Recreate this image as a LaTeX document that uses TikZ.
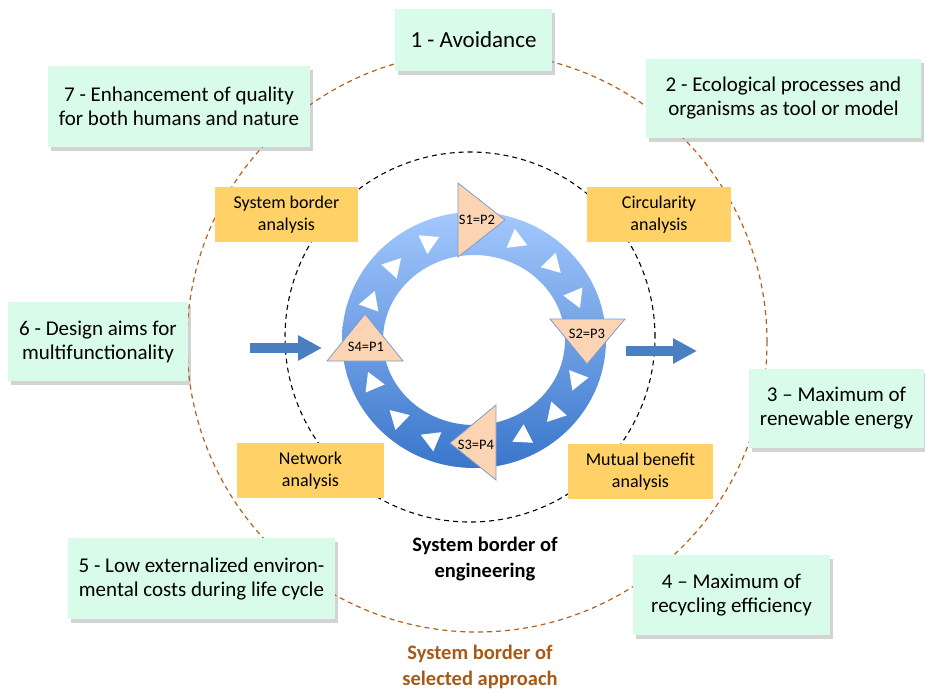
\documentclass[tikz,border=0pt]{standalone}
\usepackage{fontspec}
\setmainfont{Carlito}
\usetikzlibrary{shadows,arrows.meta}
\definecolor{mint}{HTML}{D9FBE9}
\definecolor{gold}{HTML}{FFD166}
\definecolor{brownline}{HTML}{B5611E}
\definecolor{browntext}{HTML}{A85A14}
\definecolor{ringtop}{HTML}{A3C8FD}
\definecolor{ringbot}{HTML}{3A76CB}
\definecolor{peach}{HTML}{FBD4B4}
\definecolor{triedge}{HTML}{7E9CCB}
\definecolor{arrowblue}{HTML}{4A7FC1}
\begin{document}
\begin{tikzpicture}[x=1pt,y=1pt,
  greenbox/.style={fill=mint, align=center, inner sep=0pt,
    font=\fontsize{21}{24}\selectfont,
    drop shadow={shadow xshift=2.5pt,shadow yshift=-3.5pt,opacity=0.35}},
  goldbox/.style={fill=gold, align=center, inner sep=0pt,
    font=\fontsize{18}{21.5}\selectfont},
  trilabel/.style={inner sep=0pt, font=\fontsize{14.5}{17}\selectfont},
  peachtri/.style={fill=peach, draw=triedge, line width=0.8pt, line join=miter},
  bluearrow/.style={draw=arrowblue, line width=10pt,
    -{Triangle[length=24pt,width=24pt]}},
  outerborder/.style={draw=brownline, line width=1.2pt, dash pattern=on 5pt off 4pt},
  innerborder/.style={draw=black, line width=1.1pt, dash pattern=on 5pt off 4pt}
]
\useasboundingbox (0,0) rectangle (925,-689);

% system borders
\draw[outerborder] (477,-342) circle[radius=290];
\draw[innerborder] (470,-337) circle[radius=185];

% principle boxes
\node[greenbox, minimum width=157pt, minimum height=62pt, font=\fontsize{23}{27}\selectfont] (b1) at (473.5,-40) {1 - Avoidance};
\node[greenbox, minimum width=275pt, minimum height=79pt] (b2) at (783.5,-98.5) {2 - Ecological processes and\\organisms as tool or model};
\node[greenbox, minimum width=175pt, minimum height=79pt] (b3) at (836.5,-408.5) {3 -- Maximum of\\renewable energy};
\node[greenbox, minimum width=197pt, minimum height=80pt] (b4) at (731.5,-595) {4 -- Maximum of\\recycling efficiency};
\node[greenbox, minimum width=267pt, minimum height=81pt] (b5) at (201.5,-578.5) {5 - Low externalized environ-\\mental costs during life cycle};
\node[greenbox, minimum width=180pt, minimum height=79pt] (b6) at (98,-341.5) {6 - Design aims for\\multifunctionality};
\node[greenbox, minimum width=262pt, minimum height=81pt] (b7) at (179,-106.5) {7 - Enhancement of quality\\for both humans and nature};

% analysis boxes
\node[goldbox, minimum width=143pt, minimum height=55pt] (a1) at (286.5,-214.5) {System border\\analysis};
\node[goldbox, minimum width=144pt, minimum height=55pt] (a2) at (659,-214.5) {Circularity\\analysis};
\node[goldbox, minimum width=147pt, minimum height=55pt] (a3) at (310.5,-470.5) {Network\\analysis};
\node[goldbox, minimum width=145pt, minimum height=55pt] (a4) at (640.5,-471.5) {Mutual benefit\\analysis};

% ring
\shade[top color=ringtop, bottom color=ringbot, even odd rule]
  (474,-340) ellipse[x radius=132, y radius=128]
  (474,-340) ellipse[x radius=91, y radius=85];

% small white triangles (clockwise flow)
\begin{scope}[shift={(474,-340)}]
\foreach \a/\r in {115/108,138/109,160/110,67/108,44/109,23/110,-21/110,-42/109,-63/108,-113/108,-134/109,-157/110}{
  \fill[white, shift={(\a:\r)}, rotate=\a-90] (0:12) -- (120:12) -- (240:12) -- cycle;
}
\end{scope}

% peach triangles
\draw[peachtri] (458,-183) -- (505,-220) -- (458,-257) -- cycle;
\draw[peachtri] (550,-319) -- (625,-319) -- (587,-364) -- cycle;
\draw[peachtri] (496,-405) -- (496,-480) -- (450,-443) -- cycle;
\draw[peachtri] (327,-361) -- (365,-314) -- (403,-361) -- cycle;
\node[trilabel] (s1) at (477,-220) {S1=P2};
\node[trilabel] (s2) at (587,-334) {S2=P3};
\node[trilabel] (s3) at (476,-445) {S3=P4};
\node[trilabel] (s4) at (366,-347) {S4=P1};

% input / output arrows
\coordinate (inA) at (250,-348);
\coordinate (inB) at (322,-348);
\coordinate (outA) at (626,-351);
\coordinate (outB) at (697,-351);
\draw[bluearrow] (inA) -- (inB);
\draw[bluearrow] (outA) -- (outB);

% border labels
\node[align=center, font=\bfseries\fontsize{20.5}{26}\selectfont] (eng) at (485,-559) {System border of\\engineering};
\node[align=center, text=browntext, font=\bfseries\fontsize{20.5}{26}\selectfont] (sel) at (480,-667) {System border of\\selected approach};
\end{tikzpicture}
\end{document}
